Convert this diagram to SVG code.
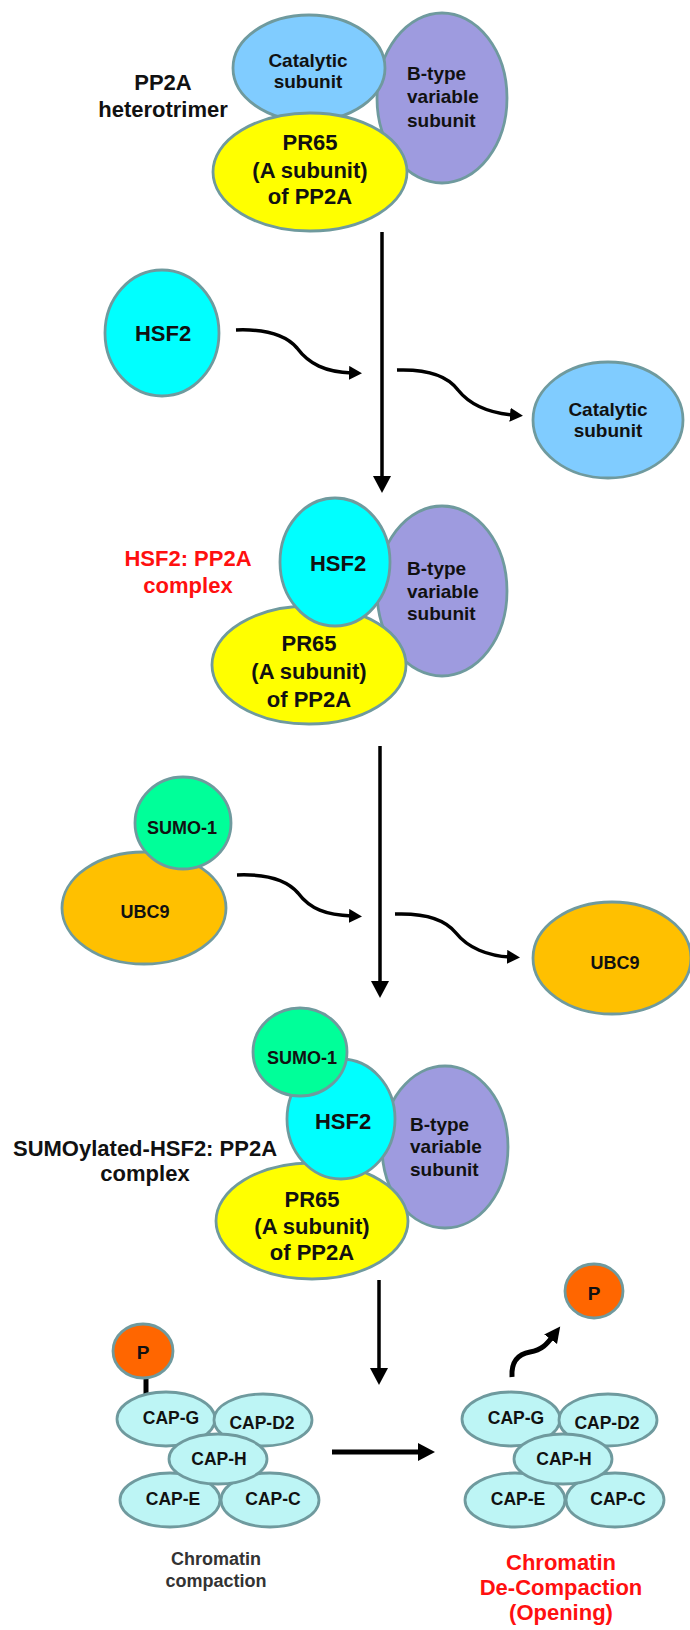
<svg xmlns="http://www.w3.org/2000/svg" width="690" height="1630" viewBox="0 0 690 1630">
<style>
  .e { stroke: #6F9A9E; stroke-width: 2.8; }
  .cat { fill: #80CCFF; }
  .bt { fill: #9E9BDF; }
  .yl { fill: #FFFF00; }
  .cy { fill: #00FFFF; }
  .su { fill: #00FF99; }
  .ub { fill: #FFC000; }
  .ph { fill: #FF6600; }
  .cap { fill: #BDF5F5; }
  text { font-family: "Liberation Sans", Arial, sans-serif; font-weight: bold; fill: #111; }
  .c { text-anchor: middle; }
  .f22 { font-size: 22px; }
  .f19 { font-size: 19px; }
  .f18 { font-size: 18px; }
  .f17 { font-size: 17.5px; }
  .red { fill: #FF1010; }
  .gray { fill: #333; }
  .ln { stroke: #000; fill: none; }
</style>
<defs>
  <marker id="ah" markerUnits="userSpaceOnUse" markerWidth="20" markerHeight="20" refX="4" refY="9" orient="auto">
    <path d="M0,0 L17,9 L0,18 z" fill="#000"/>
  </marker>
  <marker id="sh" markerUnits="userSpaceOnUse" markerWidth="16" markerHeight="16" refX="3" refY="7" orient="auto">
    <path d="M0,0 L13,7 L0,14 z" fill="#000"/>
  </marker>
  <marker id="mh" markerUnits="userSpaceOnUse" markerWidth="18" markerHeight="18" refX="4" refY="8" orient="auto">
    <path d="M0,0 L16,8 L0,16 z" fill="#000"/>
  </marker>
</defs>
<rect width="690" height="1630" fill="#fff"/>

<!-- labels -->
<g id="label-pp2a">
  <text class="c f22" x="163" y="90">PP2A</text>
  <text class="c f22" x="163" y="117">heterotrimer</text>
</g>

<!-- PP2A heterotrimer -->
<g id="pp2a-trimer">
  <ellipse class="e bt" cx="442" cy="98" rx="65" ry="85"/>
  <ellipse class="e cat" cx="309" cy="68" rx="76" ry="53"/>
  <ellipse class="e yl" cx="310" cy="172" rx="97" ry="59"/>
  <text class="c f19" x="308" y="67">Catalytic</text>
  <text class="c f19" x="308" y="88">subunit</text>
  <text class="f19" x="407" y="80">B-type</text>
  <text class="f19" x="407" y="103">variable</text>
  <text class="f19" x="407" y="127">subunit</text>
  <text class="c f22" x="310" y="150">PR65</text>
  <text class="c f22" x="310" y="178">(A subunit)</text>
  <text class="c f22" x="310" y="204">of PP2A</text>
</g>

<g id="hsf2-free">
  <ellipse class="e cy" cx="162" cy="333" rx="57" ry="63"/>
  <text class="c f22" x="163" y="341">HSF2</text>
</g>

<g id="catalytic-released">
  <ellipse class="e cat" cx="608" cy="420" rx="75" ry="58"/>
  <text class="c f19" x="608" y="416">Catalytic</text>
  <text class="c f19" x="608" y="437">subunit</text>
</g>

<!-- HSF2:PP2A complex -->
<g id="label-hsf2-pp2a">
  <text class="c f22 red" x="188" y="566">HSF2: PP2A</text>
  <text class="c f22 red" x="188" y="593">complex</text>
</g>
<g id="hsf2-pp2a-complex">
  <ellipse class="e bt" cx="442" cy="591" rx="65" ry="85"/>
  <ellipse class="e yl" cx="309" cy="665" rx="97" ry="59"/>
  <ellipse class="e cy" cx="335" cy="562" rx="55" ry="64"/>
  <text class="c f22" x="338" y="571">HSF2</text>
  <text class="f19" x="407" y="575">B-type</text>
  <text class="f19" x="407" y="598">variable</text>
  <text class="f19" x="407" y="620">subunit</text>
  <text class="c f22" x="309" y="651">PR65</text>
  <text class="c f22" x="309" y="679">(A subunit)</text>
  <text class="c f22" x="309" y="707">of PP2A</text>
</g>

<g id="sumo-ubc9">
  <ellipse class="e ub" cx="144" cy="908" rx="82" ry="56"/>
  <ellipse class="e su" cx="183" cy="823" rx="48" ry="46"/>
  <text class="c f18" x="182" y="834">SUMO-1</text>
  <text class="c f18" x="145" y="918">UBC9</text>
</g>

<g id="ubc9-released">
  <ellipse class="e ub" cx="612" cy="958" rx="79" ry="56"/>
  <text class="c f18" x="615" y="969">UBC9</text>
</g>

<!-- SUMOylated complex -->
<g id="label-sumo-complex">
  <text class="c f22" x="145" y="1156">SUMOylated-HSF2: PP2A</text>
  <text class="c f22" x="145" y="1181">complex</text>
</g>
<g id="sumo-hsf2-pp2a-complex">
  <ellipse class="e bt" cx="445" cy="1147" rx="63" ry="81"/>
  <ellipse class="e yl" cx="312" cy="1221" rx="96" ry="58"/>
  <ellipse class="e cy" cx="341" cy="1119" rx="54" ry="60"/>
  <ellipse class="e su" cx="300" cy="1052" rx="47" ry="44"/>
  <text class="c f18" x="302" y="1064">SUMO-1</text>
  <text class="c f22" x="343" y="1129">HSF2</text>
  <text class="f19" x="410" y="1131">B-type</text>
  <text class="f19" x="410" y="1153">variable</text>
  <text class="f19" x="410" y="1176">subunit</text>
  <text class="c f22" x="312" y="1207">PR65</text>
  <text class="c f22" x="312" y="1234">(A subunit)</text>
  <text class="c f22" x="312" y="1260">of PP2A</text>
</g>

<!-- condensin compacted -->
<g id="condensin-phospho">
  <line x1="146" y1="1376" x2="146" y2="1396" stroke="#000" stroke-width="5"/>
  <ellipse class="e ph" cx="143" cy="1351" rx="30" ry="27"/>
  <text class="c f19" x="143" y="1359">P</text>
  <ellipse class="e cap" cx="166" cy="1419" rx="49" ry="27"/>
  <ellipse class="e cap" cx="263" cy="1420" rx="49" ry="26"/>
  <ellipse class="e cap" cx="170" cy="1500" rx="50" ry="27"/>
  <ellipse class="e cap" cx="270" cy="1500" rx="49" ry="27"/>
  <ellipse class="e cap" cx="218" cy="1459" rx="49" ry="25"/>
  <text class="c f17" x="171" y="1424">CAP-G</text>
  <text class="c f17" x="262" y="1429">CAP-D2</text>
  <text class="c f17" x="219" y="1465">CAP-H</text>
  <text class="c f17" x="173" y="1505">CAP-E</text>
  <text class="c f17" x="273" y="1505">CAP-C</text>
  <text class="c f18 gray" x="216" y="1565">Chromatin</text>
  <text class="c f18 gray" x="216" y="1587">compaction</text>
</g>

<!-- condensin open -->
<g id="condensin-dephospho">
  <ellipse class="e cap" cx="511" cy="1419" rx="49" ry="27"/>
  <ellipse class="e cap" cx="608" cy="1420" rx="49" ry="26"/>
  <ellipse class="e cap" cx="515" cy="1500" rx="50" ry="27"/>
  <ellipse class="e cap" cx="615" cy="1500" rx="49" ry="27"/>
  <ellipse class="e cap" cx="563" cy="1459" rx="49" ry="25"/>
  <text class="c f17" x="516" y="1424">CAP-G</text>
  <text class="c f17" x="607" y="1429">CAP-D2</text>
  <text class="c f17" x="564" y="1465">CAP-H</text>
  <text class="c f17" x="518" y="1505">CAP-E</text>
  <text class="c f17" x="618" y="1505">CAP-C</text>
  <text class="c f22 red" x="561" y="1570">Chromatin</text>
  <text class="c f22 red" x="561" y="1595">De-Compaction</text>
  <text class="c f22 red" x="561" y="1620">(Opening)</text>
</g>

<g id="phosphate-released">
  <ellipse class="e ph" cx="594" cy="1291" rx="29" ry="27"/>
  <text class="c f19" x="594" y="1300">P</text>
</g>

<!-- connectors -->
<g id="connectors">
  <line class="ln" x1="382" y1="232" x2="382" y2="480" stroke-width="3.5" marker-end="url(#ah)"/>
  <path class="ln" d="M236,330 C262,329 285,334 297,348 C309,364 325,372 352,373" stroke-width="3.5" marker-end="url(#sh)"/>
  <path class="ln" d="M397,370 C425,369 447,375 458,390 C470,405 490,413 513,415" stroke-width="3.5" marker-end="url(#sh)"/>
  <line class="ln" x1="380" y1="746" x2="380" y2="985" stroke-width="3.5" marker-end="url(#ah)"/>
  <path class="ln" d="M237,875 C263,874 286,879 298,893 C310,909 326,915 352,916" stroke-width="3.5" marker-end="url(#sh)"/>
  <path class="ln" d="M395,914 C423,913 445,919 456,933 C468,948 488,956 510,957" stroke-width="3.5" marker-end="url(#sh)"/>
  <line class="ln" x1="379" y1="1280" x2="379" y2="1372" stroke-width="3.5" marker-end="url(#ah)"/>
  <line class="ln" x1="332" y1="1452" x2="422" y2="1452" stroke-width="5" marker-end="url(#ah)"/>
  <path class="ln" d="M512,1377 C511,1362 518,1354 530,1352 C542,1350 547,1344 553,1336" stroke-width="5" marker-end="url(#mh)"/>
</g>
</svg>
